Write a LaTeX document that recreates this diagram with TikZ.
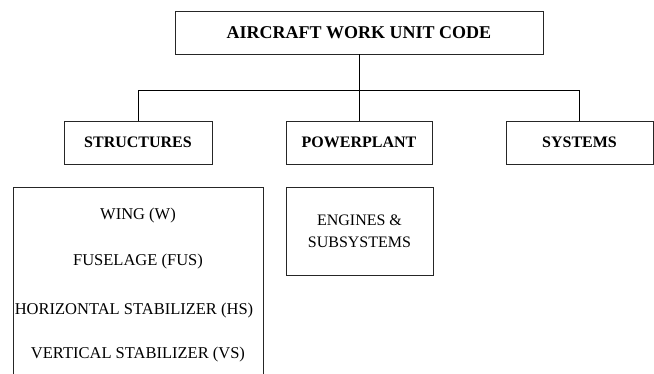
\documentclass[tikz,border=0pt]{standalone}
\usepackage{fontspec}
\setmainfont{Liberation Serif}
\begin{document}
\begin{tikzpicture}[x=1pt,y=-1pt,
  box/.style={draw=black!85,line width=0.9pt,inner sep=0pt,rectangle},
  head/.style={box,font=\fontsize{16}{19}\selectfont\bfseries},
  lab/.style={inner sep=0pt,font=\fontsize{16.5}{18}\selectfont},
  conn/.style={draw=black,line width=0.9pt}]
\useasboundingbox (0,0) rectangle (654,373);
\clip (0,0) rectangle (654,373);
\node[head,font=\fontsize{18}{20}\selectfont\bfseries,minimum width=368pt,minimum height=43pt] (top) at (359,32.5) {AIRCRAFT WORK UNIT CODE};
\node[head,minimum width=148pt,minimum height=43pt] (st) at (138,142.5) {STRUCTURES};
\node[head,minimum width=146pt,minimum height=43pt] (pp) at (359,142.5) {POWERPLANT};
\node[head,minimum width=147pt,minimum height=43pt] (sy) at (579.5,142.5) {SYSTEMS};
\coordinate (busL) at (138,90.7);
\coordinate (busR) at (579.5,90.7);
\draw[conn] (top.south) -- (pp.north);
\draw[conn] (st.north) -- (busL) -- (busR) -- (sy.north);
\node[box,minimum width=250pt,minimum height=226pt] (list) at (138,300) {};
\node[lab] (w) at (138,215.5) {WING (W)};
\node[lab] (f) at (138,262) {FUSELAGE (FUS)};
\node[lab] (h) at (134,311) {HORIZONTAL STABILIZER (HS)};
\node[lab] (v) at (138,355) {VERTICAL STABILIZER (VS)};
\node[box,minimum width=147pt,minimum height=88pt,align=center,lab,font=\fontsize{16}{22}\selectfont] (eng) at (359.5,231) {ENGINES \&\\SUBSYSTEMS};
\end{tikzpicture}
\end{document}
